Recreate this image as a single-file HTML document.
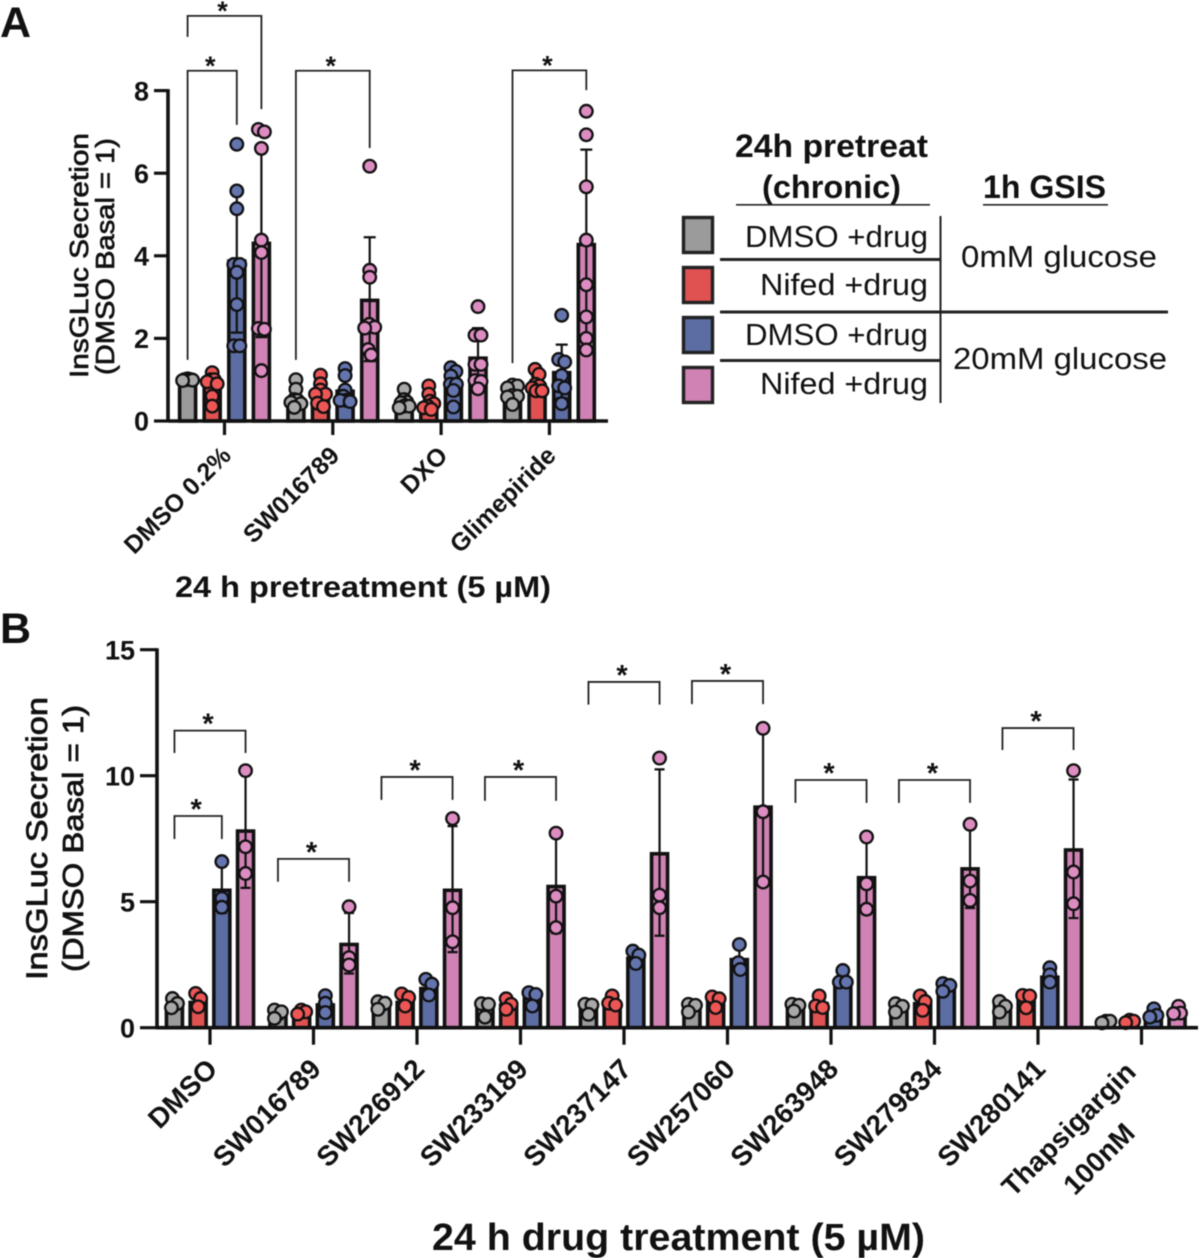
<!DOCTYPE html>
<html lang="en">
<head>
<meta charset="utf-8">
<title>InsGLuc Secretion</title>
<style>
html,body{margin:0;padding:0;background:#fff;width:1200px;height:1258px;overflow:hidden}
svg{display:block;filter:blur(.45px)}
text{font-family:"Liberation Sans",sans-serif;fill:#111}
.b{font-weight:bold}
</style>
</head>
<body>
<svg id="figure" xmlns="http://www.w3.org/2000/svg" width="1200" height="1258" viewBox="0 0 1200 1258">
  <text class="b" x="0" y="37" font-size="43">A</text>
  <text class="b" x="0" y="643" font-size="43">B</text>

  <text transform="translate(88,378) rotate(-90)" font-size="26" textLength="245" lengthAdjust="spacingAndGlyphs" style="stroke:#111;stroke-width:.7">InsGLuc Secretion</text>
  <text transform="translate(114,375) rotate(-90)" font-size="26" textLength="237" lengthAdjust="spacingAndGlyphs" style="stroke:#111;stroke-width:.7">(DMSO Basal = 1)</text>
  <text class="b" x="175" y="597" font-size="30" textLength="376" lengthAdjust="spacingAndGlyphs">24 h pretreatment (5 µM)</text>

  <text transform="translate(47,980) rotate(-90)" font-size="30" textLength="283" lengthAdjust="spacingAndGlyphs" style="stroke:#111;stroke-width:.8">InsGLuc Secretion</text>
  <text transform="translate(83,972) rotate(-90)" font-size="29" textLength="267" lengthAdjust="spacingAndGlyphs" style="stroke:#111;stroke-width:.8">(DMSO Basal = 1)</text>
  <text class="b" x="432" y="1250" font-size="38" textLength="493" lengthAdjust="spacingAndGlyphs">24 h drug treatment (5 µM)</text>

  <g>
    <text class="b" x="735" y="157" font-size="32" textLength="193" lengthAdjust="spacingAndGlyphs">24h pretreat</text>
    <text class="b" x="762" y="198" font-size="32" textLength="139" lengthAdjust="spacingAndGlyphs">(chronic)</text>
    <rect x="736" y="204" width="194" height="1.6" fill="#222"/>
    <text class="b" x="983" y="198" font-size="32" textLength="123" lengthAdjust="spacingAndGlyphs">1h GSIS</text>
    <rect x="983" y="204" width="125" height="1.6" fill="#222"/>

    <rect x="683.5" y="217.5" width="29" height="35" fill="#9b9b9b" stroke="#222" stroke-width="3.4"/>
    <rect x="683.5" y="267.5" width="29" height="35" fill="#e05252" stroke="#222" stroke-width="3.4"/>
    <rect x="683.5" y="317.5" width="29" height="35" fill="#5c6da3" stroke="#222" stroke-width="3.4"/>
    <rect x="683.5" y="367.5" width="29" height="35" fill="#cf82b3" stroke="#222" stroke-width="3.4"/>

    <text x="745" y="247" font-size="31" textLength="183" lengthAdjust="spacingAndGlyphs">DMSO +drug</text>
    <text x="760" y="295" font-size="31" textLength="168" lengthAdjust="spacingAndGlyphs">Nifed +drug</text>
    <text x="745" y="345" font-size="31" textLength="183" lengthAdjust="spacingAndGlyphs">DMSO +drug</text>
    <text x="760" y="394" font-size="31" textLength="168" lengthAdjust="spacingAndGlyphs">Nifed +drug</text>
    <text x="961" y="267" font-size="31" textLength="196" lengthAdjust="spacingAndGlyphs">0mM glucose</text>
    <text x="953" y="369" font-size="31" textLength="214" lengthAdjust="spacingAndGlyphs">20mM glucose</text>

    <rect x="720" y="258" width="220" height="3" fill="#222"/>
    <rect x="720" y="310.5" width="448" height="3" fill="#222"/>
    <rect x="720" y="359" width="220" height="3" fill="#222"/>
    <rect x="939.5" y="216" width="2" height="187" fill="#222"/>
  </g>
  <g id="panel-a"></g>
  <g id="panel-b"></g>
</svg>
<script>
/* ---------- Panel A data ---------- */
const categoriesA = [["DMSO 0.2%"], ["SW016789"], ["DXO"], ["Glimepiride"]];
const tickLabelsA = [0, 2, 4, 6, 8];

const meanGrayA = [1.0, 0.55, 0.45, 0.65];
const meanRedA = [0.88, 0.7, 0.45, 0.9];
const meanBlueA = [3.9, 0.75, 0.95, 1.2];
const meanPinkA = [4.33, 2.95, 1.55, 4.3];

const sdGrayA = [0.02, 0.22, 0.17, 0.18];
const sdRedA = [0.28, 0.26, 0.2, 0.18];
const sdBlueA = [1.76, 0.3, 0.32, 0.65];
const sdPinkA = [2.3, 1.5, 0.7, 2.27];

const pointsGrayA = [
  [1.02, 1.01, 1.0, 1.0, 1.0, 0.99, 0.98],
  [1.0, 0.77, 0.52, 0.5, 0.45, 0.42, 0.33],
  [0.77, 0.52, 0.46, 0.44, 0.36, 0.36, 0.32],
  [0.87, 0.85, 0.8, 0.62, 0.6, 0.58, 0.4]
];
const pointsRedA = [
  [1.17, 1.0, 1.0, 0.95, 0.9, 0.6, 0.36],
  [1.11, 0.9, 0.75, 0.65, 0.65, 0.43, 0.35],
  [0.85, 0.65, 0.48, 0.42, 0.36, 0.32, 0.28],
  [1.25, 1.13, 0.89, 0.85, 0.8, 0.73, 0.73]
];
const pointsBlueA = [
  [6.7, 5.57, 5.14, 3.79, 3.79, 3.6, 2.82, 1.82, 1.82],
  [1.27, 1.1, 0.75, 0.6, 0.5, 0.5, 0.47],
  [1.29, 1.2, 1.09, 0.89, 0.89, 0.74, 0.34],
  [2.56, 1.49, 1.43, 1.1, 0.85, 0.8, 0.42]
];
const pointsPinkA = [
  [7.06, 7.0, 6.6, 4.38, 4.08, 2.24, 2.22, 1.22],
  [6.17, 3.65, 3.48, 2.34, 2.27, 2.25, 1.73, 1.6],
  [2.77, 2.08, 2.08, 1.37, 1.37, 0.98, 0.96, 0.78],
  [7.5, 6.93, 5.67, 4.38, 3.3, 2.52, 2.0, 1.72]
];

/* brackets in data units: start group, start series, end group, end series, top, left foot, right foot */
const bracketsA = [
  [0, 0, 0, 3, 9.81, 9.3, 7.55],
  [0, 0, 0, 2, 8.48, 1.48, 7.17],
  [1, 0, 1, 3, 8.48, 1.48, 6.61],
  [3, 0, 3, 3, 8.49, 1.4, 8.01]
];

/* ---------- Panel B data ---------- */
const categoriesB = [["DMSO"], ["SW016789"], ["SW226912"], ["SW233189"], ["SW237147"], ["SW257060"], ["SW263948"], ["SW279834"], ["SW280141"], ["Thapsigargin", "100nM"]];
const tickLabelsB = [0, 5, 10, 15];

const meanGrayB = [0.9, 0.5, 0.85, 0.8, 0.8, 0.85, 0.85, 0.8, 0.9, 0.25];
const meanRedB = [1.05, 0.55, 1.05, 0.95, 1.0, 1.05, 1.0, 1.0, 1.2, 0.3];
const meanBlueB = [5.5, 0.95, 1.6, 1.2, 2.8, 2.75, 1.9, 1.6, 2.05, 0.5];
const meanPinkB = [7.85, 3.35, 5.5, 5.65, 6.95, 8.8, 6.0, 6.35, 7.1, 0.6];

const sdGrayB = [0.18, 0.17, 0.15, 0.25, 0.2, 0.16, 0.16, 0.17, 0.21, 0.04];
const sdRedB = [0.27, 0.08, 0.24, 0.21, 0.19, 0.22, 0.25, 0.29, 0.28, 0.04];
const sdBlueB = [0.95, 0.34, 0.32, 0.28, 0.25, 0.5, 0.27, 0.16, 0.29, 0.17];
const sdPinkB = [2.3, 1.2, 2.5, 1.9, 3.3, 3.1, 1.5, 1.6, 2.75, 0.16];

const pointsGrayB = [
  [1.16, 0.96, 0.79], [0.7, 0.63, 0.37], [1.03, 0.97, 0.73], [0.95, 0.93, 0.42], [0.93, 0.9, 0.53],
  [0.93, 0.89, 0.62], [0.93, 0.89, 0.66], [0.95, 0.85, 0.62], [1.04, 0.85, 0.62], [0.26, 0.26, 0.19]
];
const pointsRedB = [
  [1.36, 1.16, 0.83], [0.7, 0.63, 0.54], [1.34, 1.2, 0.86], [1.15, 0.93, 0.73], [1.26, 0.97, 0.9],
  [1.22, 1.15, 0.8], [1.26, 0.86, 0.8], [1.26, 1.04, 0.69], [1.28, 1.26, 0.79], [0.3, 0.26, 0.2]
];
const pointsBlueB = [
  [6.59, 5.13, 4.78], [1.27, 0.97, 0.6], [1.92, 1.73, 1.3], [1.39, 1.32, 0.86], [3.04, 2.88, 2.55],
  [3.3, 2.58, 2.31], [2.27, 1.81, 1.81], [1.75, 1.68, 1.44], [2.38, 2.1, 1.81], [0.75, 0.49, 0.42]
];
const pointsPinkB = [
  [10.2, 7.18, 6.12], [4.8, 2.78, 2.49], [8.3, 4.76, 3.41], [7.72, 5.22, 3.97], [10.7, 5.26, 4.76],
  [11.88, 8.57, 5.78], [7.57, 5.71, 4.7], [8.07, 5.82, 5.05], [10.2, 6.18, 4.92], [0.85, 0.58, 0.56]
];

const bracketsB = [
  [0, 0, 0, 3, 11.79, 10.9, 10.9],
  [0, 0, 0, 2, 8.4, 7.49, 7.49],
  [1, 0, 1, 3, 6.7, 5.79, 5.79],
  [2, 0, 2, 3, 9.95, 9.04, 9.04],
  [3, 0, 3, 3, 9.95, 9.0, 9.0],
  [4, 0, 4, 3, 13.72, 12.82, 12.82],
  [5, 0, 5, 3, 13.76, 12.84, 12.84],
  [6, 0, 6, 3, 9.83, 8.92, 8.92],
  [7, 0, 7, 3, 9.83, 8.92, 8.92],
  [8, 0, 8, 3, 11.89, 11.02, 11.02]
];

const seriesKeys = ["gray", "red", "blue", "pink"];
const barFills = ["#9b9b9b", "#e05252", "#5c6da3", "#cf82b3"];
const dotFills = ["#a8a8a8", "#ee5656", "#6474ae", "#dd8cc2"];

/* ---------- Axis functions ---------- */
function xA(g, s) { return 224.5 + g * 108.3 + (s - 1.5) * 24.6; }
function yA(v) { return 421 - v * 41.3; }
function xB(g, s) { return 210 + g * 103.5 + (s - 1.5) * 23.7; }
function yB(v) { return 1027.7 - v * 25.2; }

const SVGNS = "http://www.w3.org/2000/svg";
function make(tag, parent, attrs) {
  const e = document.createElementNS(SVGNS, tag);
  for (const k in attrs) e.setAttribute(k, attrs[k]);
  parent.appendChild(e);
  return e;
}

/* beeswarm: spreads overlapping values sideways around the bar centre, capped at maxSpread */
function swarm(values, yFn, minDist, maxSpread) {
  const placed = [];
  values.slice().sort((a, b) => b - a).forEach(v => {
    const py = yFn(v);
    let off = 0;
    for (let step = 0; step < 60; step++) {
      const cand = (step % 2 ? 1 : -1) * Math.ceil(step / 2);
      const ok = placed.every(p => Math.hypot(p.x - cand, p.y - py) >= minDist);
      if (ok) { off = cand; break; }
    }
    placed.push({ x: off, y: py });
  });
  let start = 0;
  for (let i = 1; i <= placed.length; i++) {
    if (i === placed.length || placed[i].y - placed[i - 1].y > minDist) {
      const chain = placed.slice(start, i);
      const lo = Math.min.apply(null, chain.map(c => c.x));
      const hi = Math.max.apply(null, chain.map(c => c.x));
      const half = (hi - lo) / 2;
      const scale = half > maxSpread ? maxSpread / half : 1;
      chain.forEach(c => { c.x = (c.x - (lo + hi) / 2) * scale; });
      start = i;
    }
  }
  return placed;
}

function drawPanel(root, prefix, cfg) {
  const g = document.getElementById(root);
  cfg.means.forEach((seriesMeans, s) => {
    seriesMeans.forEach((m, i) => {
      const cx = cfg.x(i, s);
      const barTop = cfg.y(m) + 1.2;
      const bar = make("rect", g, { x: cx - cfg.barW / 2, y: barTop, width: cfg.barW, height: Math.max(cfg.y(0) - barTop, 0), fill: barFills[s], stroke: "#111", "stroke-width": 3.6 });
      
      

      const sd = cfg.sds[s][i];
      const top = cfg.y(m + sd), bot = cfg.y(Math.max(m - sd, 0));
      const err = make("path", g, { d: "M" + cx + " " + top + "V" + bot + "M" + (cx - cfg.cap) + " " + top + "H" + (cx + cfg.cap) + "M" + (cx - cfg.cap) + " " + bot + "H" + (cx + cfg.cap), fill: "none", stroke: "#111", "stroke-width": 2.2 });
      
      
    });
  });
  cfg.points.forEach((seriesPoints, s) => {
    seriesPoints.forEach((vals, i) => {
      swarm(vals, cfg.y, cfg.minDist, cfg.maxSpread).forEach(p => {
        const dot = make("circle", g, { cx: cfg.x(i, s) + p.x, cy: p.y, r: cfg.r, fill: dotFills[s], stroke: "#111", "stroke-width": 2.3 });
        
        
      });
    });
  });

  const yAxis = make("line", g, { x1: cfg.axisX, x2: cfg.axisX, y1: cfg.y(cfg.ticks[cfg.ticks.length - 1]) - 1.5, y2: cfg.y(0) + 1.5, stroke: "#111", "stroke-width": 3.6 });
  
  
  const xAxis = make("line", g, { x1: cfg.axisX, x2: cfg.axisEnd, y1: cfg.y(0), y2: cfg.y(0), stroke: "#111", "stroke-width": 3.6 });
  
  

  cfg.ticks.forEach(t => {
    const tick = make("line", g, { x1: cfg.axisX - cfg.tickLen, x2: cfg.axisX, y1: cfg.y(t), y2: cfg.y(t), stroke: "#111", "stroke-width": 3.2 });
    
    
    const lab = make("text", g, { x: cfg.axisX - cfg.tickLen - 5, y: cfg.y(t) + cfg.tickFont * 0.36, "text-anchor": "end", "font-size": cfg.tickFont, class: "b" });
    lab.textContent = t;
    
    
  });

  cfg.categories.forEach((lines, i) => {
    const tx = (cfg.x(i, 1) + cfg.x(i, 2)) / 2;
    const tick = make("line", g, { x1: tx, x2: tx, y1: cfg.y(0), y2: cfg.y(0) + cfg.tickLen, stroke: "#111", "stroke-width": 3.2 });
    
    
    lines.forEach((line, n) => {
      const multi = lines.length > 1;
      const ax = tx + cfg.labelDx + (multi ? -13 - n : 0);
      const ay = cfg.y(0) + cfg.labelDy + (multi ? 3 + n * 61 : 0);
      const lab = make("text", g, { transform: "translate(" + ax + "," + ay + ") rotate(-45)", "text-anchor": "end", "font-size": cfg.catFont, class: "b" });
      lab.textContent = line;
      
      
    });
  });

  cfg.brackets.forEach((b, i) => {
    const x1 = cfg.x(b[0], b[1]), x2 = cfg.x(b[2], b[3]);
    const top = cfg.y(b[4]);
    const path = make("path", g, { d: "M" + x1 + " " + cfg.y(b[5]) + "V" + top + "H" + x2 + "V" + cfg.y(b[6]), fill: "none", stroke: "#222", "stroke-width": 1.8 });
    
    
    const star = make("text", g, { x: (x1 + x2) / 2 - 2, y: top + cfg.starDy, "text-anchor": "middle", "font-size": cfg.starFont, class: "b" });
    star.textContent = "*";
    
    
  });
}

drawPanel("panel-a", "panel-a", {
  x: xA, y: yA, barW: 16, cap: 6, r: 6.3, minDist: 6, maxSpread: 5,
  means: [meanGrayA, meanRedA, meanBlueA, meanPinkA],
  sds: [sdGrayA, sdRedA, sdBlueA, sdPinkA],
  points: [pointsGrayA, pointsRedA, pointsBlueA, pointsPinkA],
  categories: categoriesA, ticks: tickLabelsA, brackets: bracketsA,
  axisX: 168, axisEnd: 608, tickLen: 14, tickFont: 27, catFont: 25, labelDx: 8, labelDy: 36,
  starFont: 27, starDy: 4
});
drawPanel("panel-b", "panel-b", {
  x: xB, y: yB, barW: 16, cap: 5, r: 6.3, minDist: 7, maxSpread: 4,
  means: [meanGrayB, meanRedB, meanBlueB, meanPinkB],
  sds: [sdGrayB, sdRedB, sdBlueB, sdPinkB],
  points: [pointsGrayB, pointsRedB, pointsBlueB, pointsPinkB],
  categories: categoriesB, ticks: tickLabelsB, brackets: bracketsB,
  axisX: 157, axisEnd: 1198, tickLen: 17, tickFont: 27, catFont: 28, labelDx: 9, labelDy: 43,
  starFont: 29, starDy: 3
});
</script>
</body>
</html>
